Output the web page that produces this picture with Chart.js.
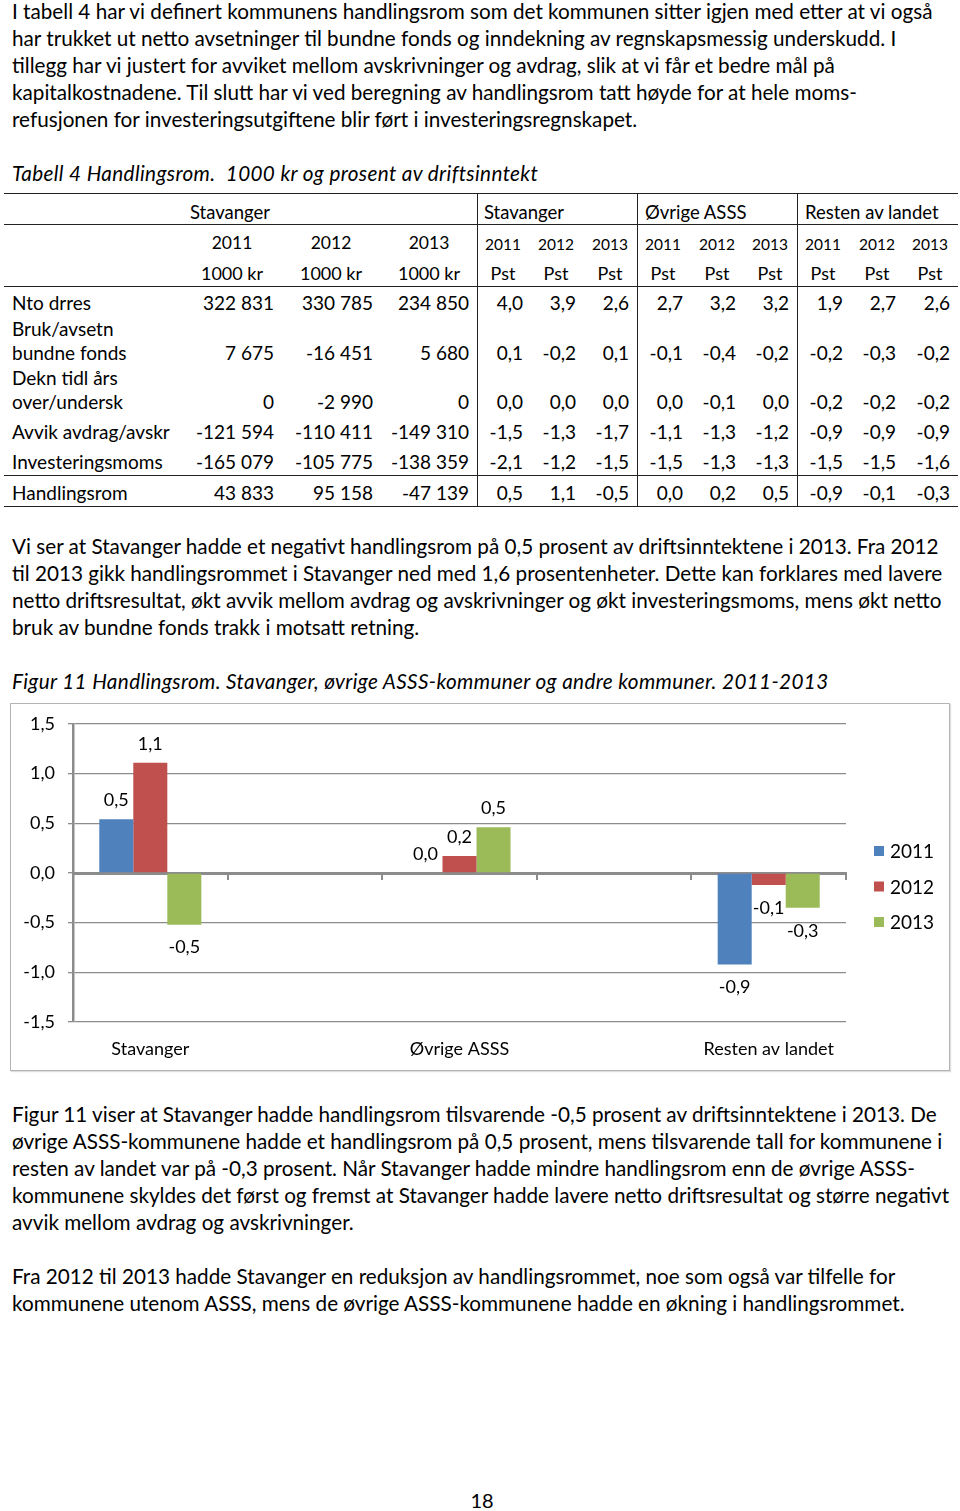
<!DOCTYPE html>
<html>
<head>
<meta charset="utf-8">
<script src="https://cdn.jsdelivr.net/npm/chart.js@4.4.0/dist/chart.umd.min.js"></script>
<style>
  html, body { margin: 0; padding: 0; background: #fff; }
  body { width: 960px; height: 1511px; position: relative; overflow: hidden;
         font-family: Lato, "Open Sans", sans-serif; color: #000; }
  .t { position: absolute; white-space: nowrap; line-height: 24px; height: 24px; }
  .p { position: absolute; left: 12px; font-size: 20.7px; line-height: 27px; white-space: nowrap; }
  .cap { font-style: italic; letter-spacing: 0.36px; }
  .hl { position: absolute; height: 0; border-top: 1.5px solid #222; }
  .vl { position: absolute; width: 0; border-left: 1.5px solid #222; }
  #box { position: absolute; left: 10px; top: 703px; width: 938px; height: 366px;
         border: 1px solid #b4b4b4; box-shadow: 1px 1px 1px #ddd; }
</style>
</head>
<body>

<div class="p" style="top:-2px">I tabell 4 har vi definert kommunens handlingsrom som det kommunen sitter igjen med etter at vi også<br>har trukket ut netto avsetninger til bundne fonds og inndekning av regnskapsmessig underskudd. I<br>tillegg har vi justert for avviket mellom avskrivninger og avdrag, slik at vi får et bedre mål på<br>kapitalkostnadene. Til slutt har vi ved beregning av handlingsrom tatt høyde for at hele moms-<br>refusjonen for investeringsutgiftene blir ført i investeringsregnskapet.</div>

<div class="p cap" style="top:160px">Tabell 4 Handlingsrom.&nbsp; 1000 kr og prosent av driftsinntekt</div>

<div id="table"></div>

<div class="p" style="top:533px">Vi ser at Stavanger hadde et negativt handlingsrom på 0,5 prosent av driftsinntektene i 2013. Fra 2012<br>til 2013 gikk handlingsrommet i Stavanger ned med 1,6 prosentenheter. Dette kan forklares med lavere<br>netto driftsresultat, økt avvik mellom avdrag og avskrivninger og økt investeringsmoms, mens økt netto<br>bruk av bundne fonds trakk i motsatt retning.</div>

<div class="p cap" style="top:668px">Figur 11 Handlingsrom. Stavanger, øvrige ASSS-kommuner og andre kommuner. 2011-2013</div>

<div id="box"><canvas id="chart"></canvas></div>

<div class="p" style="top:1101px">Figur 11 viser at Stavanger hadde handlingsrom tilsvarende -0,5 prosent av driftsinntektene i 2013. De<br>øvrige ASSS-kommunene hadde et handlingsrom på 0,5 prosent, mens tilsvarende tall for kommunene i<br>resten av landet var på -0,3 prosent. Når Stavanger hadde mindre handlingsrom enn de øvrige ASSS-<br>kommunene skyldes det først og fremst at Stavanger hadde lavere netto driftsresultat og større negativt<br>avvik mellom avdrag og avskrivninger.</div>

<div class="p" style="top:1263px">Fra 2012 til 2013 hadde Stavanger en reduksjon av handlingsrommet, noe som også var tilfelle for<br>kommunene utenom ASSS, mens de øvrige ASSS-kommunene hadde en økning i handlingsrommet.</div>

<div class="t" style="left:0;width:964px;text-align:center;top:1488px;font-size:20px">18</div>

<script>
// ---- tabell 4 ----
var rowLabels = [['Nto drres'], ['Bruk/avsetn', 'bundne fonds'], ['Dekn tidl års', 'over/undersk'],
                 ['Avvik avdrag/avskr'], ['Investeringsmoms'], ['Handlingsrom']]
var kr2011 = ['322 831', '7 675', '0', '-121 594', '-165 079', '43 833']
var kr2012 = ['330 785', '-16 451', '-2 990', '-110 411', '-105 775', '95 158']
var kr2013 = ['234 850', '5 680', '0', '-149 310', '-138 359', '-47 139']
var pstStavanger = [['4,0','3,9','2,6'], ['0,1','-0,2','0,1'], ['0,0','0,0','0,0'], ['-1,5','-1,3','-1,7'], ['-2,1','-1,2','-1,5'], ['0,5','1,1','-0,5']]
var pstOvrige = [['2,7','3,2','3,2'], ['-0,1','-0,4','-0,2'], ['0,0','-0,1','0,0'], ['-1,1','-1,3','-1,2'], ['-1,5','-1,3','-1,3'], ['0,0','0,2','0,5']]
var pstResten = [['1,9','2,7','2,6'], ['-0,2','-0,3','-0,2'], ['-0,2','-0,2','-0,2'], ['-0,9','-0,9','-0,9'], ['-1,5','-1,5','-1,6'], ['-0,9','-0,1','-0,3']]
var groupNames = ['Stavanger', 'Stavanger', 'Øvrige ASSS', 'Resten av landet']
var tableYears = ['2011', '2012', '2013']

var tbl = document.getElementById('table')
function txt(x, y, s, align, size) {
    let d = document.createElement('div')
    d.className = 't'
    d.style.fontSize = (size || 19) + 'px'
    d.style.top = (y - 12) + 'px'
    if (align == 'right') { d.style.left = (x - 300) + 'px'; d.style.width = '300px'; d.style.textAlign = 'right' }
    else if (align == 'center') { d.style.left = (x - 150) + 'px'; d.style.width = '300px'; d.style.textAlign = 'center' }
    else d.style.left = x + 'px'
    d.textContent = s
    tbl.append(d)
}
function hline(x1, x2, y) {
    let d = document.createElement('div'); d.className = 'hl'
    d.style.left = x1 + 'px'; d.style.width = (x2 - x1) + 'px'; d.style.top = y + 'px'
    tbl.append(d)
}
function vline(x, y1, y2) {
    let d = document.createElement('div'); d.className = 'vl'
    d.style.left = x + 'px'; d.style.top = y1 + 'px'; d.style.height = (y2 - y1) + 'px'
    tbl.append(d)
}
hline(4, 958, 193); hline(4, 958, 224); hline(4, 958, 286); hline(4, 958, 475); hline(4, 958, 506)
vline(477, 193, 507); vline(637, 193, 507); vline(797, 193, 507)

var groupX = [190, 484, 645, 805]
groupNames.forEach((g, i) => txt(groupX[i], 212, g, 'left', 18.5))
var krCenters = [232, 331, 429], krRight = [274, 373, 469]
tableYears.forEach((y, i) => { txt(krCenters[i], 243, y, 'center', 17.5); txt(krCenters[i], 273, '1000 kr', 'center', 18) })
var pstCenters = [[503, 556, 610], [663, 717, 770], [823, 877, 930]]
var pstRight = [[523, 576, 629], [683, 736, 789], [843, 896, 950]]
pstCenters.forEach(g => g.forEach((c, i) => { txt(c, 244, tableYears[i], 'center', 15.5); txt(c, 273, 'Pst', 'center', 18) }))

var rowY = [303, 353, 402, 432, 462, 493]
var krCols = [kr2011, kr2012, kr2013]
var pstGroups = [pstStavanger, pstOvrige, pstResten]
rowLabels.forEach((lab, r) => {
    if (lab.length == 2) { txt(12, rowY[r] - 24, lab[0]); txt(12, rowY[r], lab[1]) }
    else txt(12, rowY[r], lab[0])
    krCols.forEach((col, i) => txt(krRight[i], rowY[r], col[r], 'right'))
    pstGroups.forEach((g, gi) => g[r].forEach((v, i) => txt(pstRight[gi][i], rowY[r], v, 'right')))
})

// ---- figur 11 ----
var categories = ['Stavanger', '', 'Øvrige ASSS', '', 'Resten av landet']
var seriesNames = ['2011', '2012', '2013']
var values2011 = [0.54, null, 0.0, null, -0.92]
var values2012 = [1.11, null, 0.17, null, -0.12]
var values2013 = [-0.52, null, 0.46, null, -0.35]
var seriesColors = ['#4F81BD', '#C0504D', '#9BBB59']
var yMin = -1.5, yMax = 1.5, yStep = 0.5

function komma(v, d) { return v.toFixed(d).replace('.', ',') }

var barLabels = {
    id: 'barLabels',
    afterDatasetsDraw(chart) {
        let ctx = chart.ctx
        ctx.save()
        ctx.font = '18px Lato'
        ctx.fillStyle = '#000'
        ctx.textAlign = 'center'
        ctx.textBaseline = 'middle'
        chart.data.datasets.forEach((ds, i) => {
            chart.getDatasetMeta(i).data.forEach((bar, j) => {
                let v = ds.data[j]
                if (v === null) return
                let y = v >= 0 ? bar.y - 19 : bar.y + 23
                ctx.fillText(komma(v, 1), bar.x, y)
            })
        })
        ctx.restore()
    }
}

var sideLegend = {
    id: 'sideLegend',
    afterDraw(chart) {
        let ctx = chart.ctx, a = chart.chartArea
        let mid = (a.top + a.bottom) / 2
        ctx.save()
        ctx.font = '19px Lato'
        ctx.textBaseline = 'middle'
        chart.data.datasets.forEach((ds, i) => {
            let y = mid - 22 + i * 35.5
            ctx.fillStyle = ds.backgroundColor
            ctx.fillRect(a.right + 28, y - 5, 10, 10)
            ctx.fillStyle = '#000'
            ctx.fillText(ds.label, a.right + 44, y + 1)
        })
        ctx.restore()
    }
}

var ctx = document.getElementById('chart').getContext('2d')
var myChart = new Chart(ctx, {
    type: 'bar',
    data: {
        labels: categories,
        datasets: [
            { label: seriesNames[0], data: values2011, backgroundColor: seriesColors[0] },
            { label: seriesNames[1], data: values2012, backgroundColor: seriesColors[1] },
            { label: seriesNames[2], data: values2013, backgroundColor: seriesColors[2] }
        ]
    },
    options: {
        responsive: true,
        maintainAspectRatio: false,
        animation: false,
        events: [],
        layout: { padding: { top: 20, left: 10, right: 103, bottom: 6 } },
        datasets: { bar: { categoryPercentage: 0.66, barPercentage: 1.0 } },
        plugins: { legend: { display: false }, tooltip: { enabled: false } },
        scales: {
            x: {
                grid: { display: false },
                border: { display: false },
                ticks: { padding: 8, color: '#000', font: { family: 'Lato', size: 18 } },
                afterFit(s) { s.height = 42 }
            },
            x0: {
                type: 'category',
                labels: categories,
                position: { y: 0 },
                grid: { drawOnChartArea: false, drawTicks: true, tickLength: 5, offset: true, color: '#8c8c8c', lineWidth: 2 },
                border: { display: true, color: '#8c8c8c', width: 3 },
                ticks: { display: false }
            },
            y: {
                min: yMin,
                max: yMax,
                ticks: { stepSize: yStep, padding: 13, color: '#000', font: { family: 'Lato', size: 18 },
                         callback: v => komma(v, 1) },
                grid: { color: '#8c8c8c', lineWidth: 1.3, tickLength: 5 },
                border: { color: '#8c8c8c', width: 2.5 },
                afterFit(s) { s.width = 52; s.paddingTop = 0; s.paddingBottom = 0 }
            }
        }
    },
    plugins: [barLabels, sideLegend]
})
</script>
</body>
</html>
